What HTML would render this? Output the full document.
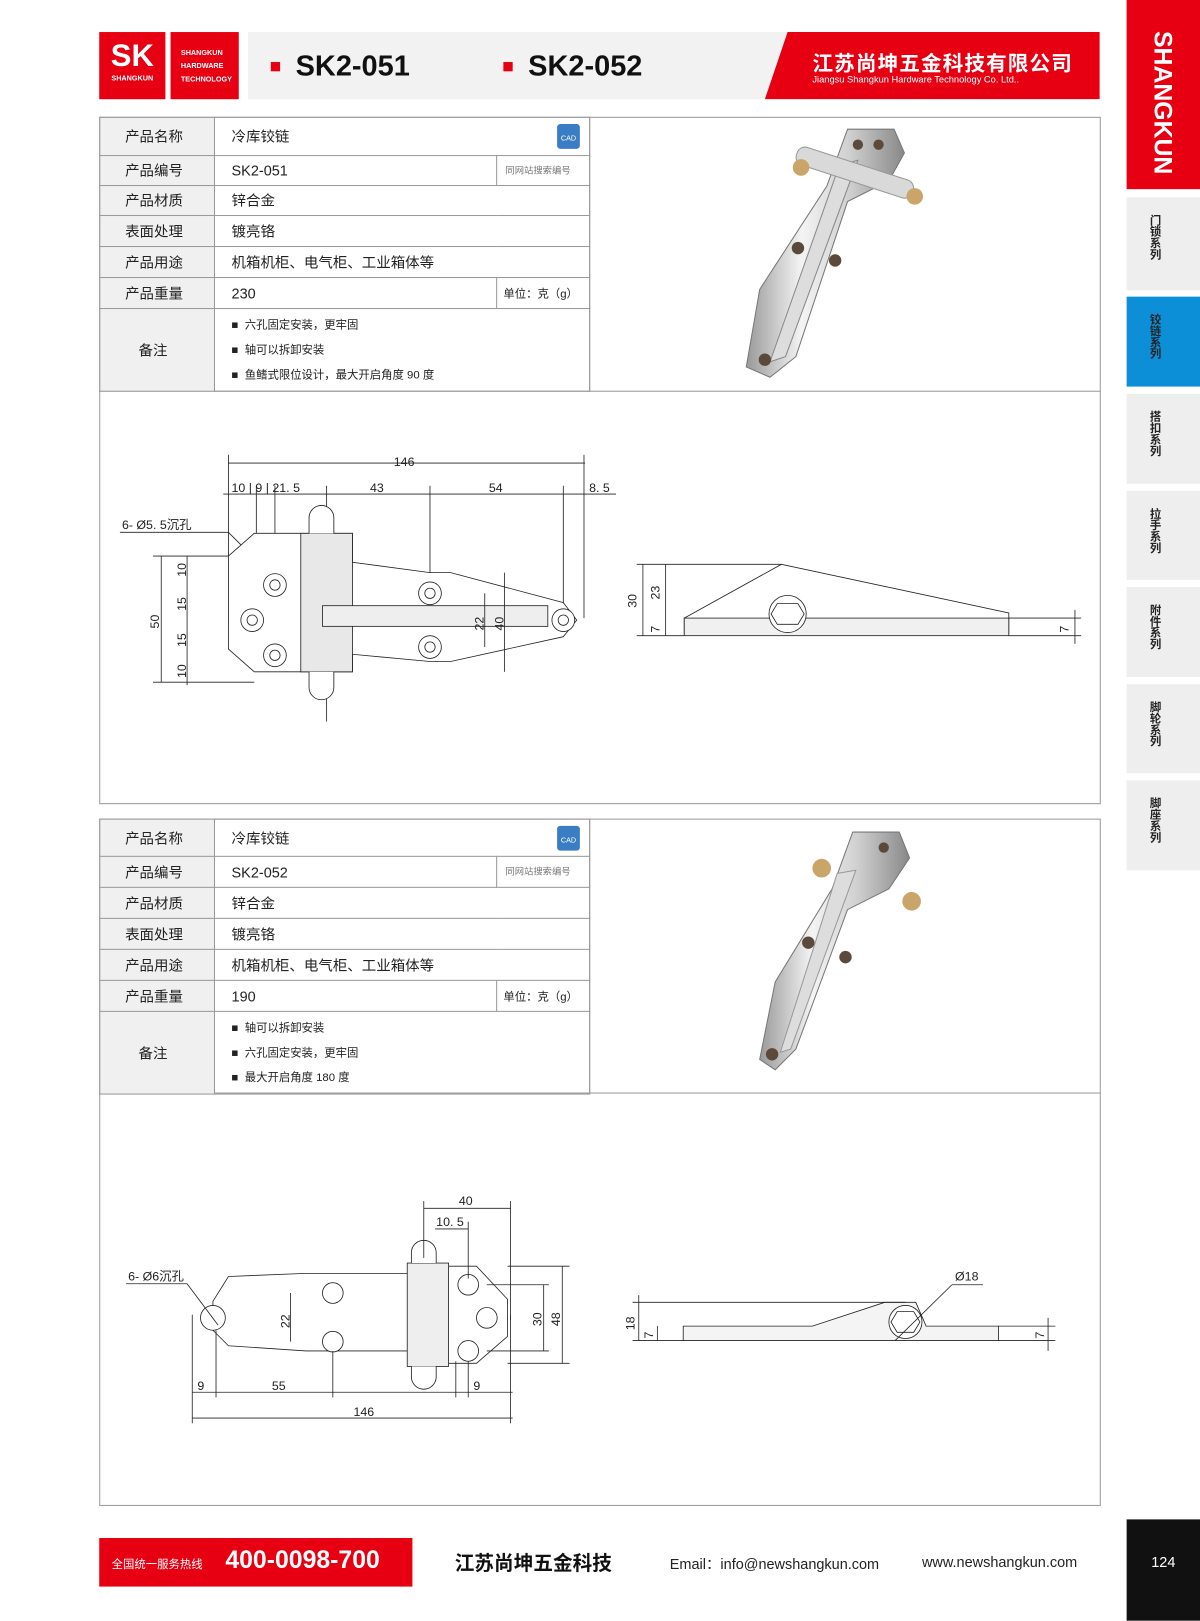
<!DOCTYPE html>
<html><head><meta charset="utf-8">
<style>
*{margin:0;padding:0;box-sizing:border-box}
html,body{width:1200px;height:1620px;overflow:hidden;background:#fff}
#w{position:absolute;left:0;top:0;width:1161px;height:1568px;transform:scale(1.0336);transform-origin:0 0;font-family:"Liberation Sans","Noto Sans CJK SC",sans-serif;color:#222}
.a{position:absolute}
.tab{position:absolute;left:1090px;width:71px;background:#eeeeee;}
.tab span{position:absolute;left:21px;width:14px;font-size:11px;font-weight:bold;line-height:11px;text-align:center;color:#222}
table{border-collapse:collapse;position:absolute;font-size:14px}
td{border:1px solid #9a9a9a;padding:0 0 0 16px}
td.l{width:111px;background:#f0f0f0;padding-left:24px}
.n{font-size:11px;line-height:23px}
.cad{position:absolute;width:22px;height:24px;background:#3b7dc4;border-radius:3px;color:#fff;font-size:7px;text-align:center;line-height:30px}
</style></head><body><div id="w">
<!-- header -->
<div class="a" style="left:96px;top:31px;width:64px;height:65px;background:#e60012;color:#fff;text-align:center">
<div style="font-size:30px;font-weight:bold;line-height:36px;margin-top:6px">SK</div><div style="font-size:7px;font-weight:bold">SHANGKUN</div></div>
<div class="a" style="left:165px;top:31px;width:66px;height:65px;background:#e60012;color:#fff;font-size:7px;font-weight:bold;line-height:13px;padding:14px 0 0 10px">SHANGKUN<br>HARDWARE<br>TECHNOLOGY</div>
<div class="a" style="left:240px;top:31px;width:540px;height:65px;background:#f2f2f2"></div>
<div class="a" style="left:262px;top:60px;width:9px;height:9px;background:#e60012"></div>
<div class="a" style="left:286px;top:48px;font-size:28px;font-weight:bold;color:#111">SK2-051</div>
<div class="a" style="left:487px;top:60px;width:9px;height:9px;background:#e60012"></div>
<div class="a" style="left:511px;top:48px;font-size:28px;font-weight:bold;color:#111">SK2-052</div>
<svg class="a" style="left:740px;top:31px" width="324" height="65"><polygon points="22,0 324,0 324,65 0,65" fill="#e60012"/></svg>
<div class="a" style="left:786px;top:45px;color:#fff;font-size:20px;font-weight:bold;letter-spacing:1px">江苏尚坤五金科技有限公司</div>
<div class="a" style="left:786px;top:72px;color:#fff;font-size:9px">Jiangsu Shangkun Hardware Technology Co. Ltd..</div>
<!-- sidebar -->
<div class="a" style="left:1090px;top:0;width:71px;height:183px;background:#e60012"></div>
<div class="a" style="left:1104px;top:30px;width:40px;height:130px;color:#fff;font-size:24px;font-weight:bold;writing-mode:vertical-rl;line-height:40px">SHANGKUN</div>
<div class="tab" style="top:191px;height:90px"><span style="top:18px">门锁系列</span></div>
<div class="tab" style="top:287px;height:87px;background:#0c8fd6"><span style="top:18px">铰链系列</span></div>
<div class="tab" style="top:381px;height:87px"><span style="top:18px">搭扣系列</span></div>
<div class="tab" style="top:475px;height:86px"><span style="top:18px">拉手系列</span></div>
<div class="tab" style="top:568px;height:87px"><span style="top:18px">附件系列</span></div>
<div class="tab" style="top:662px;height:86px"><span style="top:18px">脚轮系列</span></div>
<div class="tab" style="top:755px;height:87px"><span style="top:18px">脚座系列</span></div>

<!-- section 1 -->
<div class="a" style="left:96px;top:113px;width:969px;height:665px;border:1px solid #9a9a9a"></div>
<div class="a" style="left:570px;top:113px;width:1px;height:266px;background:#9a9a9a"></div>
<div class="a" style="left:96px;top:378px;width:969px;height:1px;background:#9a9a9a"></div>
<table style="left:96px;top:113px;width:475px">
<tr style="height:37px"><td class="l">产品名称</td><td colspan="2">冷库铰链</td></tr>
<tr style="height:29px"><td class="l">产品编号</td><td>SK2-051</td><td class="n" style="width:90px;padding-left:8px;color:#777;font-size:9px">同网站搜索编号</td></tr>
<tr style="height:29px"><td class="l">产品材质</td><td colspan="2">锌合金</td></tr>
<tr style="height:30px"><td class="l">表面处理</td><td colspan="2">镀亮铬</td></tr>
<tr style="height:30px"><td class="l">产品用途</td><td colspan="2">机箱机柜、电气柜、工业箱体等</td></tr>
<tr style="height:30px"><td class="l">产品重量</td><td>230</td><td style="padding-left:6px;font-size:11px">单位：克（g）</td></tr>
<tr style="height:80px"><td class="l" style="padding-left:37px">备注</td><td colspan="2" style="font-size:11px;line-height:24px">■&nbsp; 六孔固定安装，更牢固<br>■&nbsp; 轴可以拆卸安装<br>■&nbsp; 鱼鳍式限位设计，最大开启角度 90 度</td></tr>
</table>
<div class="cad" style="left:539px;top:120px">CAD</div>
<!-- photo 1 -->
<svg class="a" style="left:700px;top:120px" width="220" height="250">
<defs><linearGradient id="g" x1="0" x2="1"><stop offset="0" stop-color="#999"/><stop offset=".35" stop-color="#f4f4f4"/><stop offset=".65" stop-color="#d0d0d0"/><stop offset="1" stop-color="#888"/></linearGradient></defs>
<polygon points="120,5 165,5 175,28 160,55 120,75 70,225 45,245 22,235 35,160 100,60" fill="url(#g)" stroke="#777"/>
<polygon points="112,40 130,35 60,225 45,230" fill="#ddd" stroke="#888"/>
<rect x="68" y="38" width="118" height="18" rx="8" fill="#d9d9d9" stroke="#999" transform="rotate(18 127 47)"/>
<circle cx="75" cy="42" r="8" fill="#c9a56a"/><circle cx="185" cy="70" r="8" fill="#c9a56a"/>
<circle cx="72" cy="120" r="6" fill="#5b4a3b"/><circle cx="108" cy="132" r="6" fill="#5b4a3b"/><circle cx="40" cy="228" r="6" fill="#5b4a3b"/><circle cx="150" cy="20" r="5" fill="#5b4a3b"/><circle cx="130" cy="20" r="5" fill="#5b4a3b"/>
</svg>
<!-- drawing 1 -->
<svg class="a" style="left:96px;top:378px" width="969" height="400" font-family="Liberation Sans" font-size="12" fill="none" stroke="#222" stroke-width="0.8">
<g>
<line x1="125" y1="70" x2="470" y2="70"/><line x1="125" y1="62" x2="125" y2="230"/><line x1="469" y1="62" x2="469" y2="220"/>
<text x="285" y="73" fill="#222" stroke="none">146</text>
<line x1="120" y1="100" x2="500" y2="100"/>
<text x="128" y="98" fill="#222" stroke="none">10 | 9  | 21. 5</text>
<text x="262" y="98" fill="#222" stroke="none">43</text><text x="377" y="98" fill="#222" stroke="none">54</text><text x="474" y="98" fill="#222" stroke="none">8. 5</text>
<line x1="152" y1="92" x2="152" y2="225"/><line x1="170" y1="92" x2="170" y2="200"/><line x1="220" y1="92" x2="220" y2="320"/><line x1="320" y1="92" x2="320" y2="200"/><line x1="449" y1="92" x2="449" y2="220"/>
<text x="22" y="134" fill="#222" stroke="none">6- Ø5. 5沉孔</text><line x1="20" y1="137" x2="125" y2="137"/><line x1="125" y1="137" x2="186" y2="198"/>
<polygon points="125,160 150,138 245,138 245,166 320,176 340,176 449,205 462,222 449,238 340,262 320,262 245,255 245,272 150,272 125,250" fill="#fff"/>
<rect x="195" y="138" width="50" height="134" fill="#e8e8e8"/>
<path d="M203,138 v-15 a12,12 0 0 1 24,0 v15" fill="#fff"/><path d="M203,272 v15 a12,12 0 0 0 24,0 v-15" fill="#fff"/>
<rect x="216" y="208" width="218" height="20" fill="#eee"/>
<g fill="#fff"><circle cx="170" cy="188" r="11"/><circle cx="148" cy="222" r="11"/><circle cx="170" cy="256" r="11"/><circle cx="320" cy="196" r="11"/><circle cx="320" cy="248" r="11"/><circle cx="449" cy="222" r="11"/></g>
<g><circle cx="170" cy="188" r="5"/><circle cx="148" cy="222" r="5"/><circle cx="170" cy="256" r="5"/><circle cx="320" cy="196" r="5"/><circle cx="320" cy="248" r="5"/><circle cx="449" cy="222" r="5"/></g>
<line x1="85" y1="160" x2="85" y2="285"/><line x1="60" y1="160" x2="60" y2="282"/><line x1="52" y1="282" x2="150" y2="282"/><line x1="52" y1="160" x2="125" y2="160"/>
<text x="58" y="230" fill="#222" stroke="none" transform="rotate(-90 58 230)">50</text>
<text x="84" y="180" fill="#222" stroke="none" transform="rotate(-90 84 180)">10</text><text x="84" y="213" fill="#222" stroke="none" transform="rotate(-90 84 213)">15</text><text x="84" y="248" fill="#222" stroke="none" transform="rotate(-90 84 248)">15</text><text x="84" y="278" fill="#222" stroke="none" transform="rotate(-90 84 278)">10</text>
<line x1="373" y1="196" x2="373" y2="248"/><line x1="392" y1="176" x2="392" y2="272"/>
<text x="372" y="232" fill="#222" stroke="none" transform="rotate(-90 372 232)">22</text><text x="391" y="232" fill="#222" stroke="none" transform="rotate(-90 391 232)">40</text>
</g>
<g>
<polygon points="566,220 660,168 880,215 880,235 566,235" fill="#fff"/>
<rect x="566" y="220" width="314" height="17" fill="#f0f0f0"/>
<circle cx="666" cy="216" r="18" fill="#fff"/><polygon points="656,206 676,206 682,216 676,226 656,226 650,216"/>
<line x1="520" y1="168" x2="660" y2="168"/><line x1="520" y1="237" x2="566" y2="237"/><line x1="526" y1="168" x2="526" y2="237"/><line x1="548" y1="168" x2="548" y2="237"/>
<text x="520" y="210" fill="#222" stroke="none" transform="rotate(-90 520 210)">30</text><text x="542" y="202" fill="#222" stroke="none" transform="rotate(-90 542 202)">23</text><text x="542" y="234" fill="#222" stroke="none" transform="rotate(-90 542 234)">7</text>
<line x1="880" y1="220" x2="950" y2="220"/><line x1="880" y1="237" x2="950" y2="237"/><line x1="944" y1="212" x2="944" y2="245"/>
<text x="938" y="234" fill="#222" stroke="none" transform="rotate(-90 938 234)">7</text>
</g>
</svg>

<!-- section 2 -->
<div class="a" style="left:96px;top:792px;width:969px;height:665px;border:1px solid #9a9a9a"></div>
<div class="a" style="left:570px;top:792px;width:1px;height:266px;background:#9a9a9a"></div>
<div class="a" style="left:96px;top:1057px;width:969px;height:1px;background:#9a9a9a"></div>
<table style="left:96px;top:792px;width:475px">
<tr style="height:36px"><td class="l">产品名称</td><td colspan="2">冷库铰链</td></tr>
<tr style="height:30px"><td class="l">产品编号</td><td>SK2-052</td><td class="n" style="width:90px;padding-left:8px;color:#777;font-size:9px">同网站搜索编号</td></tr>
<tr style="height:30px"><td class="l">产品材质</td><td colspan="2">锌合金</td></tr>
<tr style="height:30px"><td class="l">表面处理</td><td colspan="2">镀亮铬</td></tr>
<tr style="height:30px"><td class="l">产品用途</td><td colspan="2">机箱机柜、电气柜、工业箱体等</td></tr>
<tr style="height:30px"><td class="l">产品重量</td><td>190</td><td style="padding-left:6px;font-size:11px">单位：克（g）</td></tr>
<tr style="height:80px"><td class="l" style="padding-left:37px">备注</td><td colspan="2" style="font-size:11px;line-height:24px">■&nbsp; 轴可以拆卸安装<br>■&nbsp; 六孔固定安装，更牢固<br>■&nbsp; 最大开启角度 180 度</td></tr>
</table>
<div class="cad" style="left:539px;top:799px">CAD</div>
<svg class="a" style="left:710px;top:800px" width="200" height="245">
<polygon points="115,5 160,5 170,30 150,60 110,80 60,215 40,235 25,225 40,150 95,60" fill="url(#g)" stroke="#777"/>
<polygon points="100,45 118,42 55,215 45,218" fill="#ddd" stroke="#999"/>
<circle cx="85" cy="40" r="9" fill="#c9a56a"/><circle cx="172" cy="72" r="9" fill="#c9a56a"/>
<circle cx="72" cy="112" r="6" fill="#5b4a3b"/><circle cx="108" cy="126" r="6" fill="#5b4a3b"/><circle cx="37" cy="220" r="6" fill="#5b4a3b"/><circle cx="145" cy="20" r="5" fill="#5b4a3b"/>
</svg>
<svg class="a" style="left:96px;top:1057px" width="969" height="400" font-family="Liberation Sans" font-size="12" fill="none" stroke="#222" stroke-width="0.8">
<polygon points="110,202 125,178 200,175 300,175 300,250 200,250 125,245 110,230" fill="#fff"/>
<polygon points="330,168 365,168 395,200 395,236 365,262 330,262" fill="#fff"/>
<rect x="298" y="165" width="40" height="100" fill="#eee"/>
<path d="M302,165 v-10 a12,12 0 0 1 24,0 v10" fill="#fff"/><path d="M302,265 v10 a12,12 0 0 0 24,0 v-10" fill="#fff"/>
<g fill="#fff"><circle cx="110" cy="218" r="12"/><circle cx="226" cy="194" r="10"/><circle cx="226" cy="241" r="10"/><circle cx="357" cy="186" r="10"/><circle cx="375" cy="218" r="10"/><circle cx="357" cy="250" r="10"/></g>
<text x="28" y="182" fill="#222" stroke="none">6- Ø6沉孔</text><line x1="26" y1="185" x2="85" y2="185"/><line x1="85" y1="185" x2="115" y2="225"/>
<line x1="90" y1="290" x2="400" y2="290"/><line x1="90" y1="315" x2="400" y2="315"/><line x1="90" y1="215" x2="90" y2="320"/><line x1="398" y1="215" x2="398" y2="320"/><line x1="113" y1="230" x2="113" y2="295"/><line x1="226" y1="250" x2="226" y2="295"/><line x1="345" y1="260" x2="345" y2="295"/><line x1="357" y1="260" x2="357" y2="295"/>
<text x="95" y="288" fill="#222" stroke="none">9</text><text x="167" y="288" fill="#222" stroke="none">55</text><text x="362" y="288" fill="#222" stroke="none">9</text><text x="246" y="313" fill="#222" stroke="none">146</text>
<line x1="185" y1="194" x2="185" y2="241"/><text x="184" y="228" fill="#222" stroke="none" transform="rotate(-90 184 228)">22</text>
<line x1="314" y1="112" x2="398" y2="112"/><line x1="314" y1="105" x2="314" y2="160"/><line x1="398" y1="105" x2="398" y2="220"/><line x1="325" y1="132" x2="357" y2="132"/><line x1="357" y1="125" x2="357" y2="180"/>
<text x="348" y="109" fill="#222" stroke="none">40</text><text x="326" y="129" fill="#222" stroke="none">10. 5</text>
<line x1="395" y1="168" x2="455" y2="168"/><line x1="395" y1="262" x2="455" y2="262"/><line x1="375" y1="186" x2="435" y2="186"/><line x1="375" y1="250" x2="435" y2="250"/><line x1="430" y1="186" x2="430" y2="250"/><line x1="448" y1="168" x2="448" y2="262"/>
<text x="428" y="226" fill="#222" stroke="none" transform="rotate(-90 428 226)">30</text><text x="446" y="226" fill="#222" stroke="none" transform="rotate(-90 446 226)">48</text>
<polygon points="565,226 690,226 760,203 790,203 800,226 870,226 870,240 565,240" fill="#f4f4f4"/>
<circle cx="780" cy="222" r="16" fill="#fff"/><polygon points="772,212 788,212 794,222 788,232 772,232 766,222"/>
<line x1="516" y1="203" x2="780" y2="203"/><line x1="522" y1="196" x2="522" y2="240"/><line x1="540" y1="226" x2="540" y2="240"/><line x1="516" y1="240" x2="565" y2="240"/>
<text x="518" y="230" fill="#222" stroke="none" transform="rotate(-90 518 230)">18</text><text x="536" y="238" fill="#222" stroke="none" transform="rotate(-90 536 238)">7</text>
<text x="828" y="182" fill="#222" stroke="none">Ø18</text><line x1="825" y1="186" x2="855" y2="186"/><line x1="825" y1="186" x2="770" y2="240"/>
<line x1="870" y1="226" x2="925" y2="226"/><line x1="870" y1="240" x2="925" y2="240"/><line x1="918" y1="218" x2="918" y2="250"/>
<text x="914" y="238" fill="#222" stroke="none" transform="rotate(-90 914 238)">7</text>
</svg>

<!-- footer -->
<div class="a" style="left:96px;top:1488px;width:303px;height:47px;background:#e60012;color:#fff">
<span class="a" style="left:12px;top:17px;font-size:11px">全国统一服务热线</span>
<span class="a" style="left:122px;top:8px;font-size:24px;font-weight:bold">400-0098-700</span></div>
<div class="a" style="left:440px;top:1498px;font-size:19px;font-weight:bold;color:#111">江苏尚坤五金科技</div>
<div class="a" style="left:648px;top:1503px;font-size:14px">Email：info@newshangkun.com</div>
<div class="a" style="left:892px;top:1503px;font-size:14px">www.newshangkun.com</div>
<div class="a" style="left:1090px;top:1470px;width:71px;height:98px;background:#111;color:#fff;font-size:14px;text-align:center;padding-top:33px">124</div>
</div></body></html>
